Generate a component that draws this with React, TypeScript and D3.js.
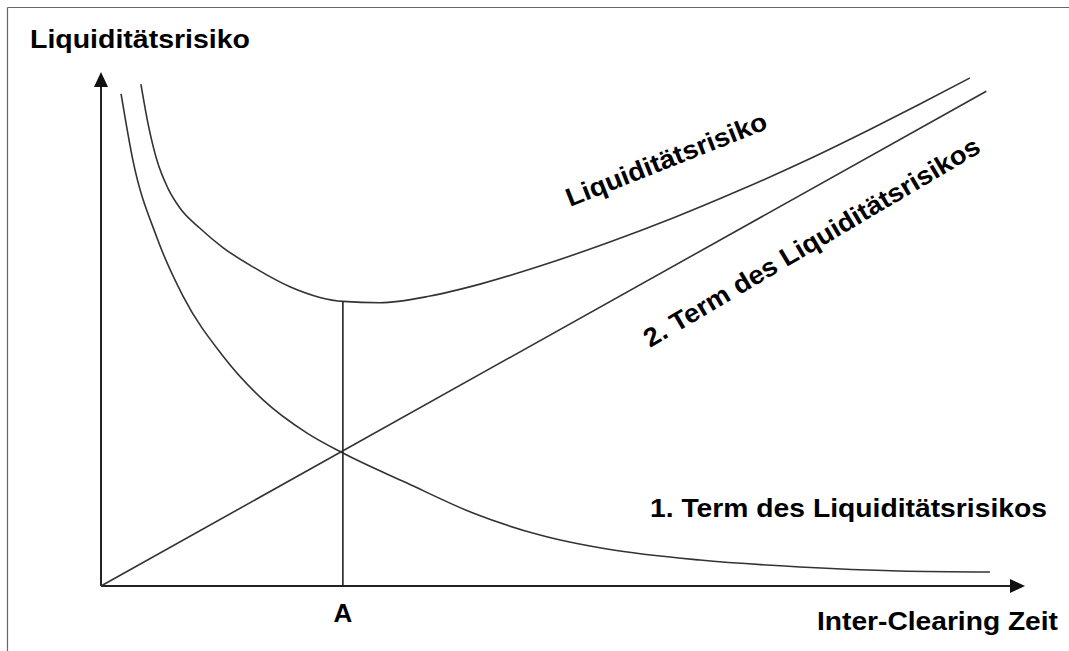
import React from "react";
import * as d3 from "d3";

// Data units: x = Inter-Clearing Zeit (A at 10), y = Liquiditätsrisiko
const term1X = [0.83, 1.32, 2.31, 3.39, 5.04, 6.7, 8.52, 10.0, 12.65, 15.38, 18.15, 20.92, 24.76, 28.9, 33.0, 36.75];
const term1Y = [37.0, 32.0, 26.2, 21.8, 17.3, 14.0, 11.5, 10.0, 7.74, 5.49, 3.83, 2.78, 1.95, 1.43, 1.13, 1.05];

const term2X = [0, 36.6];
const term2Y = [0, 37.2];

const sumX = [1.65, 1.94, 2.31, 2.77, 3.27, 4.09, 5.04, 6.37, 7.81, 9.05, 10.0, 11.53, 13.6, 15.67, 18.15, 20.92, 23.65, 26.42, 29.19, 31.91, 33.86, 35.92];
const sumY = [37.74, 34.81, 32.03, 29.9, 28.4, 26.9, 25.45, 23.9, 22.5, 21.7, 21.4, 21.3, 21.8, 22.7, 24.06, 25.79, 27.67, 29.77, 32.03, 34.44, 36.24, 38.2];

const pointA = 10;
const pointAY = 21.4;

const yAxisTitle = "Liquiditätsrisiko";
const xAxisTitle = "Inter-Clearing Zeit";
const labelA = "A";
const labelSum = "Liquiditätsrisiko";
const labelTerm1 = "1. Term des Liquiditätsrisikos";
const labelTerm2 = "2. Term des Liquiditätsrisikos";

const W = 1069;
const H = 651;
const FONT = "'Liberation Sans', Arial, sans-serif";

export default function App() {
  const x = d3.scaleLinear().domain([0, 38.2]).range([101, 1025]);
  const y = d3.scaleLinear().domain([0, 38.65]).range([586, 72]);

  const line = d3
    .line<[number, number]>()
    .x((d) => x(d[0]))
    .y((d) => y(d[1]))
    .curve(d3.curveMonotoneX);

  const zip = (a: number[], b: number[]) => a.map((v, i) => [v, b[i]] as [number, number]);

  const x0 = x(0);
  const y0 = y(0);
  const xEnd = x.range()[1];
  const yEnd = y.range()[1];

  const textStyle = { fontFamily: FONT, fontWeight: 700 as const, fontSize: 26, fill: "#000" };

  return (
    <svg width={W} height={H} style={{ position: "absolute", left: 0, top: 0, background: "#fff" }}>
      <rect x={0} y={0} width={W} height={H} fill="#fff" />
      {/* frame */}
      <line x1={7.5} y1={7.5} x2={W} y2={7.5} stroke="#666" strokeWidth={1.2} />
      <line x1={7.5} y1={7.5} x2={7.5} y2={H} stroke="#666" strokeWidth={1.2} />

      {/* axes */}
      <line x1={x0} y1={y0} x2={x0} y2={yEnd + 12} stroke="#222" strokeWidth={2} />
      <path d={`M${x0},${yEnd} L${x0 - 7},${yEnd + 15} L${x0 + 7},${yEnd + 15} Z`} fill="#111" />
      <line x1={x0} y1={y0} x2={xEnd - 12} y2={y0} stroke="#222" strokeWidth={2} />
      <path d={`M${xEnd},${y0} L${xEnd - 15},${y0 - 7} L${xEnd - 15},${y0 + 7} Z`} fill="#111" />

      {/* curves */}
      <path d={line(zip(term1X, term1Y)) || ""} fill="none" stroke="#333" strokeWidth={1.6} />
      <path d={line(zip(term2X, term2Y)) || ""} fill="none" stroke="#333" strokeWidth={1.6} />
      <path d={line(zip(sumX, sumY)) || ""} fill="none" stroke="#333" strokeWidth={1.6} />
      <line x1={x(pointA)} y1={y(0)} x2={x(pointA)} y2={y(pointAY)} stroke="#222" strokeWidth={1.6} />

      {/* texts */}
      <text x={30} y={48} {...textStyle} textLength={220} lengthAdjust="spacingAndGlyphs">
        {yAxisTitle}
      </text>
      <text x={x(pointA)} y={622} {...textStyle} textAnchor="middle">
        {labelA}
      </text>
      <text x={817} y={630} {...textStyle} textLength={241} lengthAdjust="spacingAndGlyphs">
        {xAxisTitle}
      </text>
      <text x={650} y={517} {...textStyle} textLength={397} lengthAdjust="spacingAndGlyphs">
        {labelTerm1}
      </text>
      <text
        x={0}
        y={0}
        {...textStyle}
        textLength={214}
        lengthAdjust="spacingAndGlyphs"
        transform="translate(570,207) rotate(-21.6)"
      >
        {labelSum}
      </text>
      <text
        x={0}
        y={0}
        {...textStyle}
        textLength={386}
        lengthAdjust="spacingAndGlyphs"
        transform="translate(650,348) rotate(-30.6)"
      >
        {labelTerm2}
      </text>
    </svg>
  );
}
